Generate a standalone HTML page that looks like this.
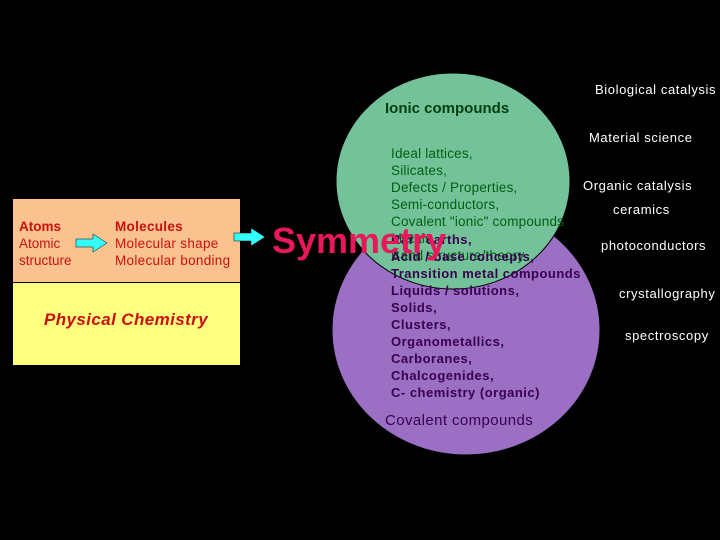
<!DOCTYPE html>
<html><head><style>
body{margin:0;width:720px;height:540px;background:#000;position:relative;overflow:hidden;font-family:"Liberation Sans",sans-serif}
.t{position:absolute;white-space:nowrap}
.w{font-size:13px;color:#fff;letter-spacing:0.6px}
</style></head><body>
<svg width="720" height="540" style="position:absolute;left:0;top:0">
<ellipse cx="466" cy="330" rx="134" ry="125" fill="#9b6fc3" stroke="#000"/>
<ellipse cx="453" cy="181" rx="117" ry="108" fill="#74c29a" stroke="#000"/>
<rect x="13" y="199" width="227" height="83" fill="#f9c28f"/>
<rect x="13" y="283" width="227" height="82" fill="#ffff80"/>
<line x1="13" y1="282.5" x2="240" y2="282.5" stroke="#000"/>
<polygon points="76,240 93,240 93,235 107,244 93,253 93,248 76,248" fill="#33ffff" stroke="#000" stroke-width="0.5" transform="translate(0,-1)"/>
<polygon points="231,240 248,240 248,235 262,244 248,253 248,248 231,248" fill="#33ffff" stroke="#000" stroke-width="0.5" transform="translate(3,-7)"/>
</svg>
<div class="t" style="left:19px;top:218px;font-size:13.5px;line-height:17px;color:#cc1010"><b>Atoms</b><br>Atomic<br>structure</div>
<div class="t" style="left:115px;top:218px;font-size:13.5px;line-height:17px;color:#cc1010;letter-spacing:0.3px"><b>Molecules</b><br>Molecular shape<br>Molecular bonding</div>
<div class="t" style="left:44px;top:310px;font-size:17px;font-weight:bold;font-style:italic;color:#cc1010;letter-spacing:0.4px">Physical Chemistry</div>
<div class="t" style="left:385px;top:100px;font-size:15px;font-weight:bold;color:#004010">Ionic compounds</div>
<div class="t" style="left:391px;top:145px;font-size:13.5px;line-height:17px;color:#006010;letter-spacing:0.2px">Ideal lattices,<br>Silicates,<br>Defects / Properties,<br>Semi-conductors,<br>Covalent "ionic" compounds<br>Metals,<br>Band structure/theory</div>
<div class="t" style="left:391px;top:231px;font-size:13px;line-height:17px;font-weight:bold;color:#3a0050;letter-spacing:0.5px">Rare earths,<br>Acid / base concepts,<br>Transition metal compounds<br>Liquids / solutions,<br>Solids,<br>Clusters,<br>Organometallics,<br>Carboranes,<br>Chalcogenides,<br>C- chemistry (organic)</div>
<div class="t" style="left:385px;top:412px;font-size:15px;color:#3a0050;letter-spacing:0.4px">Covalent compounds</div>
<div class="t" style="left:272px;top:220px;font-size:36px;font-weight:bold;color:#e8185a">Symmetry</div>
<div class="t w" style="left:595px;top:82px">Biological catalysis</div>
<div class="t w" style="left:589px;top:130px">Material science</div>
<div class="t w" style="left:583px;top:178px">Organic catalysis</div>
<div class="t w" style="left:613px;top:202px">ceramics</div>
<div class="t w" style="left:601px;top:238px">photoconductors</div>
<div class="t w" style="left:619px;top:286px">crystallography</div>
<div class="t w" style="left:625px;top:328px">spectroscopy</div>
</body></html>
